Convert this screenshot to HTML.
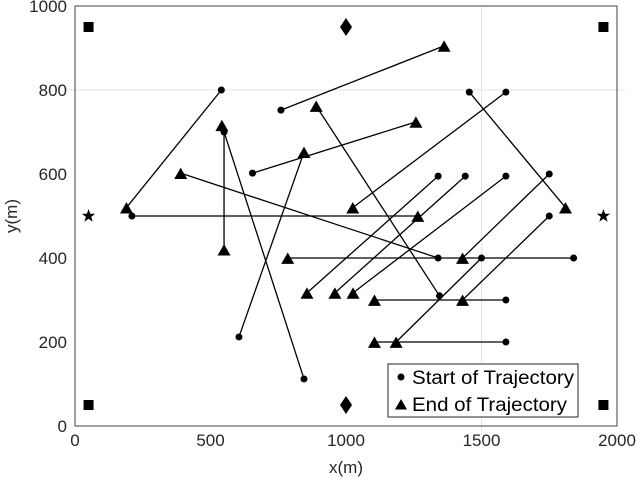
<!DOCTYPE html>
<html><head><meta charset="utf-8"><style>
html,body{margin:0;padding:0;background:#fff;}
svg{display:block;font-family:"Liberation Sans",sans-serif;}
</style></head><body>
<svg id="chart" width="640" height="484" viewBox="0 0 640 484" xmlns="http://www.w3.org/2000/svg"></svg>
<script>
const xTicks = [0, 500, 1000, 1500, 2000];
const yTicks = [0, 200, 400, 600, 800, 1000];
const startX = [540, 210, 550, 845, 605, 760, 655, 1345, 1340, 1840, 1455, 1590, 1340, 1440, 1590, 1750, 1750, 1500, 1590, 1590];
const startY = [800, 500, 700, 112, 212, 752, 602, 310, 400, 400, 795, 795, 595, 595, 595, 600, 500, 400, 300, 200];
const endX   = [190, 1265, 550, 542, 845, 1362, 1258, 890, 390, 785, 1810, 1025, 856, 959, 1026, 1430, 1430, 1185, 1105, 1105];
const endY   = [520, 500, 420, 716, 652, 905, 724, 762, 602, 400, 520, 520, 317, 317, 317, 400, 300, 200, 300, 200];
const squareX = [50, 50, 1950, 1950];
const squareY = [950, 50, 950, 50];
const diamondX = [1000, 1000];
const diamondY = [950, 50];
const starX = [50, 1950];
const starY = [500, 500];

const L=75,R=617,T=6,B=426;
const sx=v=>L+(v-0)/2000*(R-L);
const sy=v=>B-(v-0)/1000*(B-T);
const svg=document.getElementById('chart');
const NS='http://www.w3.org/2000/svg';
function mk(tag,attrs,parent){const e=document.createElementNS(NS,tag);for(const k in attrs)e.setAttribute(k,attrs[k]);(parent||svg).appendChild(e);return e;}

let g=mk('line',{x1:L-8,x2:R+8,y1:sy(800),y2:sy(800),stroke:'#e3e3e3','stroke-width':1});


g=mk('line',{x1:sx(1500),x2:sx(1500),y1:T,y2:B+5,stroke:'#e3e3e3','stroke-width':1});



const box=mk('rect',{x:L,y:T,width:R-L,height:B-T,fill:'none',stroke:'#404040','stroke-width':1});



xTicks.forEach(v=>{
  const lb=mk('text',{x:sx(v),y:B+20,'text-anchor':'middle','font-size':17,fill:'#262626'});
  lb.textContent=v;
  
  
});
yTicks.forEach(v=>{
  const lb=mk('text',{x:L-8,y:sy(v)+6,'text-anchor':'end','font-size':17,fill:'#262626'});
  lb.textContent=v;
  
  
});
let xt=mk('text',{x:(L+R)/2,y:473,'text-anchor':'middle','font-size':17,fill:'#262626'});
xt.textContent='x(m)';


let yt=mk('text',{x:0,y:0,'text-anchor':'middle','font-size':17,fill:'#262626',transform:'translate(17,'+((T+B)/2)+') rotate(-90)'});
yt.textContent='y(m)';



function tri(cx,cy,s){return `${cx},${cy-s} ${cx-s},${cy+s*0.75} ${cx+s},${cy+s*0.75}`;}

startX.forEach((_,i)=>{
  const ln=mk('line',{x1:sx(startX[i]),y1:sy(startY[i]),x2:sx(endX[i]),y2:sy(endY[i]),stroke:'#000','stroke-width':1.3});
  
  
});
startX.forEach((_,i)=>{
  const c=mk('circle',{cx:sx(startX[i]),cy:sy(startY[i]),r:3.5,fill:'#000'});
  
  
  const p=mk('polygon',{points:tri(sx(endX[i]),sy(endY[i])+1,6.5),fill:'#000'});
  
  
});
squareX.forEach((_,i)=>{
  const r=mk('rect',{x:sx(squareX[i])-5,y:sy(squareY[i])-5,width:10,height:10,fill:'#000'});
  
  
});
diamondX.forEach((_,i)=>{
  const cx=sx(diamondX[i]),cy=sy(diamondY[i]);
  const d=mk('polygon',{points:`${cx},${cy-9} ${cx+6},${cy} ${cx},${cy+9} ${cx-6},${cy}`,fill:'#000'});
  
  
});
starX.forEach((_,i)=>{
  const cx=sx(starX[i]),cy=sy(starY[i]);let pts=[];
  for(let k=0;k<10;k++){const a=-Math.PI/2+k*Math.PI/5;const rr=k%2?2.8:7;pts.push((cx+rr*Math.cos(a)).toFixed(1)+','+(cy+rr*Math.sin(a)).toFixed(1));}
  const s=mk('polygon',{points:pts.join(' '),fill:'#000'});
  
  
});

const lg=mk('g',{});


mk('rect',{x:388,y:364,width:190,height:53,fill:'#fff',stroke:'#262626'},lg);
mk('circle',{cx:401,cy:377,r:3.5,fill:'#000'},lg);
let l1=mk('text',{x:412,y:384,'font-size':19,fill:'#000',textLength:162,lengthAdjust:'spacingAndGlyphs'},lg);
l1.textContent='Start of Trajectory';


mk('polygon',{points:tri(401,405,6),fill:'#000'},lg);
let l2=mk('text',{x:412,y:411,'font-size':19,fill:'#000',textLength:155,lengthAdjust:'spacingAndGlyphs'},lg);
l2.textContent='End of Trajectory';


</script>
</body></html>
